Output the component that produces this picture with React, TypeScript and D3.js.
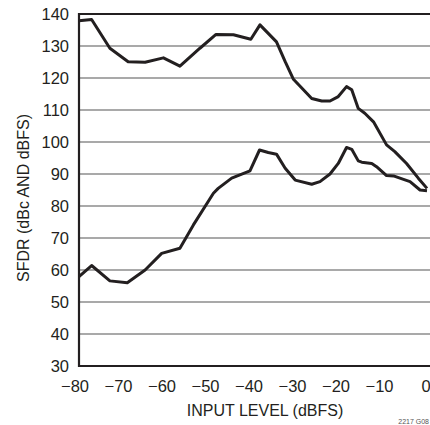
import React from "react";
import * as d3 from "d3";

const xTicks = [-80, -70, -60, -50, -40, -30, -20, -10, 0];
const yTicks = [30, 40, 50, 60, 70, 80, 90, 100, 110, 120, 130, 140];

const upperX = [-80, -77.1, -72.9, -68.7, -64.8, -60.6, -56.8, -52.2, -48.5, -44.5, -40.5, -38.4, -34.6, -32.6, -30.7, -26.5, -24.2, -22.3, -20.4, -18.5, -17.3, -15.8, -14.3, -12.3, -9.3, -7.4, -4.7, -2.0, 0];
const upperY = [137.9, 138.3, 129.3, 125.1, 124.9, 126.3, 123.7, 129.3, 133.6, 133.5, 132.1, 136.6, 131.3, 125.1, 119.6, 113.6, 112.8, 112.8, 114.2, 117.3, 116.3, 110.5, 109.0, 106.3, 99.1, 97.0, 93.3, 88.7, 85.5];

const lowerX = [-80, -77.1, -72.9, -68.9, -64.8, -61.0, -56.8, -53.7, -49.1, -48.0, -44.9, -40.7, -38.5, -36.5, -34.6, -32.6, -30.3, -26.5, -24.6, -22.3, -20.4, -18.5, -17.3, -15.8, -15.0, -12.7, -11.6, -9.3, -7.7, -5.4, -3.9, -1.6, 0];
const lowerY = [57.9, 61.4, 56.6, 56.0, 60.0, 65.2, 66.8, 74.1, 84.0, 85.5, 88.7, 91.0, 97.5, 96.7, 96.2, 91.8, 88.1, 86.8, 87.6, 90.0, 93.3, 98.3, 97.7, 94.1, 93.7, 93.3, 92.3, 89.5, 89.4, 88.3, 87.6, 85.0, 84.8];

const W = 430;
const H = 425;
const left = 79;
const right = 427;
const top = 14;
const bottom = 366;
const font = "'Liberation Sans', Arial, sans-serif";

export default function App() {
  const x = d3.scaleLinear().domain([-80, 0]).range([left, right]);
  const y = d3.scaleLinear().domain([30, 140]).range([bottom, top]);
  const line = d3
    .line<[number, number]>()
    .x((d) => x(d[0]))
    .y((d) => y(d[1]))
    .curve(d3.curveLinear);
  const upper = upperX.map((v, i) => [v, upperY[i]] as [number, number]);
  const lower = lowerX.map((v, i) => [v, lowerY[i]] as [number, number]);

  return (
    <div style={{ position: "fixed", left: 0, top: 0 }}>
      <svg width={W} height={H} style={{ display: "block", background: "#fff" }}>
        {yTicks
          .filter((t) => t !== 30 && t !== 140)
          .map((t) => (
            <line key={t} x1={left} x2={W} y1={y(t)} y2={y(t)} stroke="#8c8c8c" strokeWidth={1.6} />
          ))}
        <line x1={left} x2={W} y1={y(140)} y2={y(140)} stroke="#231f20" strokeWidth={2.2} />
        <line x1={left} x2={W} y1={y(30)} y2={y(30)} stroke="#231f20" strokeWidth={2.2} />
        <line x1={left} x2={left} y1={y(140) - 1} y2={y(30) + 1} stroke="#231f20" strokeWidth={2.2} />
        <path d={line(upper) || ""} fill="none" stroke="#231f20" strokeWidth={3} strokeLinejoin="round" />
        <path d={line(lower) || ""} fill="none" stroke="#231f20" strokeWidth={3} strokeLinejoin="round" />
        {yTicks.map((t) => (
          <text key={t} x={69} y={y(t) + 6} textAnchor="end" fontFamily={font} fontSize={16.5} fill="#231f20">
            {t}
          </text>
        ))}
        {xTicks.map((t) => (
          <text
            key={t}
            x={x(t) + (t < 0 ? -4 : -1)}
            y={392}
            textAnchor="middle"
            fontFamily={font}
            fontSize={16.5}
            fill="#231f20"
          >
            {t < 0 ? "\u2212" + Math.abs(t) : String(t)}
          </text>
        ))}
        <text x={265} y={416} textAnchor="middle" fontFamily={font} fontSize={16} fill="#231f20">
          INPUT LEVEL (dBFS)
        </text>
        <text
          transform={`translate(29, 198) rotate(-90)`}
          textAnchor="middle"
          fontFamily={font}
          fontSize={16}
          fill="#231f20"
        >
          SFDR (dBc AND dBFS)
        </text>
        <text x={429} y={424} textAnchor="end" fontFamily={font} fontSize={7} fill="#555">
          2217 G08
        </text>
      </svg>
    </div>
  );
}
